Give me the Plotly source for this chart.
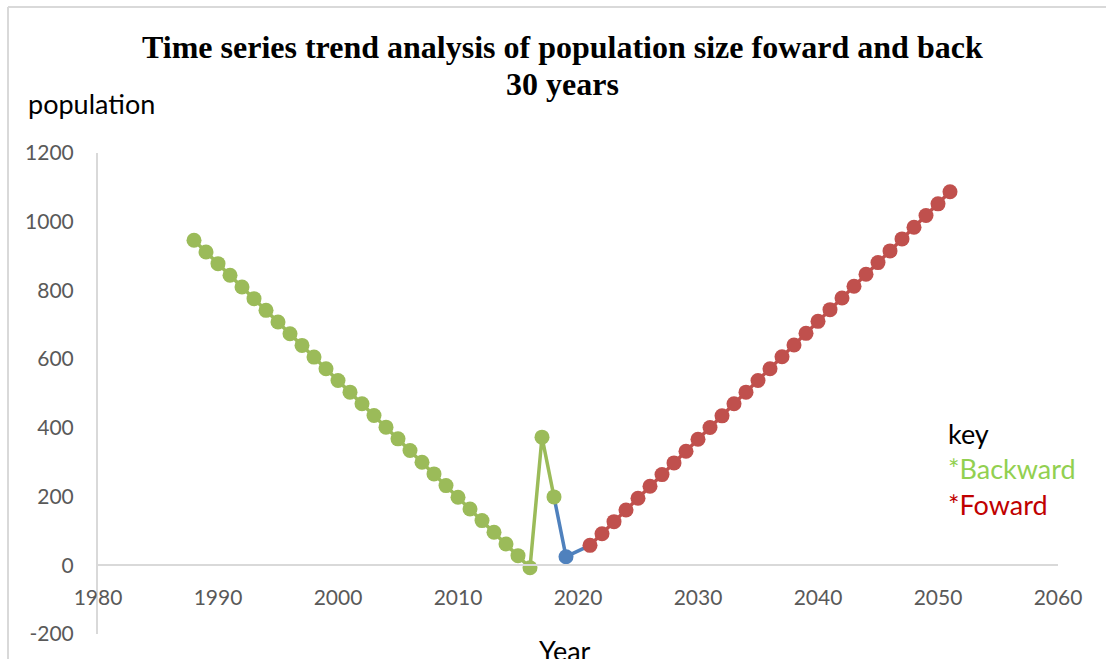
import plotly.graph_objects as go

# Backward projection (1988-2018), observed point (2019), forward projection (2021-2051)
backward_years = list(range(1988, 2019))
backward_pop = [946, 912, 878, 844, 810, 776, 742, 708, 674, 640, 606, 572, 538, 504,
                470, 436, 402, 368, 334, 300, 266, 232, 198, 164, 130, 96, 62, 28, -7,
                373, 199]

observed_year = [2019]
observed_pop = [25]

forward_years = list(range(2021, 2052))
forward_pop = [58, 92, 127, 161, 195, 230, 264, 298, 332, 367, 401, 435, 470, 504, 538,
               572, 607, 641, 675, 710, 744, 778, 812, 847, 881, 915, 950, 984, 1018,
               1052, 1087]

x_ticks = [1980, 1990, 2000, 2010, 2020, 2030, 2040, 2050, 2060]
y_ticks = [-200, 0, 200, 400, 600, 800, 1000, 1200]
y_tick_text = ["-200", "0", "200", "400", "600", "800", "1000", "1200"]

title_lines = ["Time series trend analysis of population size foward and back", "30 years"]

GREEN = "#9BBB59"
RED = "#C0504D"
BLUE = "#4F81BD"
AXIS_GRAY = "#D9D9D9"
TICK_FONT = dict(family="Lato", size=21, color="#595959")
LABEL_FONT = dict(family="Lato", size=27, color="black")

W, H = 1106, 659
L, R, T, B = 98, 48, 153, 25
pw, ph = W - L - R, H - T - B


def px_x(p):
    return (p - L) / pw


def px_y(p):
    return (H - B - p) / ph


fig = go.Figure()

# Blue link: last backward point -> observed -> first forward point
fig.add_trace(go.Scatter(
    x=[backward_years[-1]] + observed_year + [forward_years[0]],
    y=[backward_pop[-1]] + observed_pop + [forward_pop[0]],
    mode="lines", line=dict(color=BLUE, width=3.5), hoverinfo="skip",
))
fig.add_trace(go.Scatter(
    x=backward_years, y=backward_pop, mode="lines+markers",
    line=dict(color=GREEN, width=3.5), marker=dict(color=GREEN, size=15),
))
fig.add_trace(go.Scatter(
    x=forward_years, y=forward_pop, mode="lines+markers",
    line=dict(color=RED, width=3.5), marker=dict(color=RED, size=15),
))
fig.add_trace(go.Scatter(
    x=observed_year, y=observed_pop, mode="markers",
    marker=dict(color=BLUE, size=15),
))

zero_pos = (0 - y_ticks[0]) / (y_ticks[-1] - y_ticks[0])

title_font = dict(family="Liberation Serif", size=32, color="black", weight="bold")
annotations = [
    dict(text=title_lines[0], xref="paper", yref="paper", x=px_x(562), y=px_y(47),
         xanchor="center", yanchor="middle", showarrow=False, font=title_font),
    dict(text=title_lines[1], xref="paper", yref="paper", x=px_x(562), y=px_y(84),
         xanchor="center", yanchor="middle", showarrow=False, font=title_font),
    dict(text="population", xref="paper", yref="paper", x=px_x(26), y=px_y(103),
         xanchor="left", yanchor="middle", showarrow=False, font=LABEL_FONT),
    dict(text="Year", xref="paper", yref="paper", x=px_x(565), y=px_y(650),
         xanchor="center", yanchor="middle", showarrow=False, font=LABEL_FONT),
    dict(text="key", xref="paper", yref="paper", x=px_x(946), y=px_y(433),
         xanchor="left", yanchor="middle", showarrow=False, font=LABEL_FONT),
    dict(text="*Backward", xref="paper", yref="paper", x=px_x(946), y=px_y(468),
         xanchor="left", yanchor="middle", showarrow=False,
         font=dict(LABEL_FONT, color="#92D050")),
    dict(text="*Foward", xref="paper", yref="paper", x=px_x(946), y=px_y(504),
         xanchor="left", yanchor="middle", showarrow=False,
         font=dict(LABEL_FONT, color="#C00000")),
]

fig.update_layout(
    width=W, height=H,
    margin=dict(l=L, r=R, t=T, b=B, pad=0),
    paper_bgcolor="white", plot_bgcolor="white",
    showlegend=False,
    xaxis=dict(
        range=[1980, 2060], tickvals=x_ticks, ticks="", showgrid=False,
        zeroline=False, showline=True, linecolor=AXIS_GRAY, linewidth=2,
        anchor="free", position=zero_pos, tickfont=TICK_FONT,
        ticklabelstandoff=14,
    ),
    yaxis=dict(
        range=[-200, 1200], tickvals=y_ticks, ticktext=y_tick_text, ticks="",
        showgrid=False, zeroline=False, showline=True, linecolor=AXIS_GRAY,
        linewidth=2, tickfont=TICK_FONT, ticklabelstandoff=18,
    ),
    annotations=annotations,
    shapes=[
        dict(type="line", xref="paper", yref="paper", x0=px_x(8), x1=px_x(8),
             y0=px_y(7), y1=px_y(H + 5), line=dict(color=AXIS_GRAY, width=2)),
        dict(type="line", xref="paper", yref="paper", x0=px_x(8), x1=px_x(W + 5),
             y0=px_y(7), y1=px_y(7), line=dict(color=AXIS_GRAY, width=2)),
    ],
)

fig.write_html("out.html")
